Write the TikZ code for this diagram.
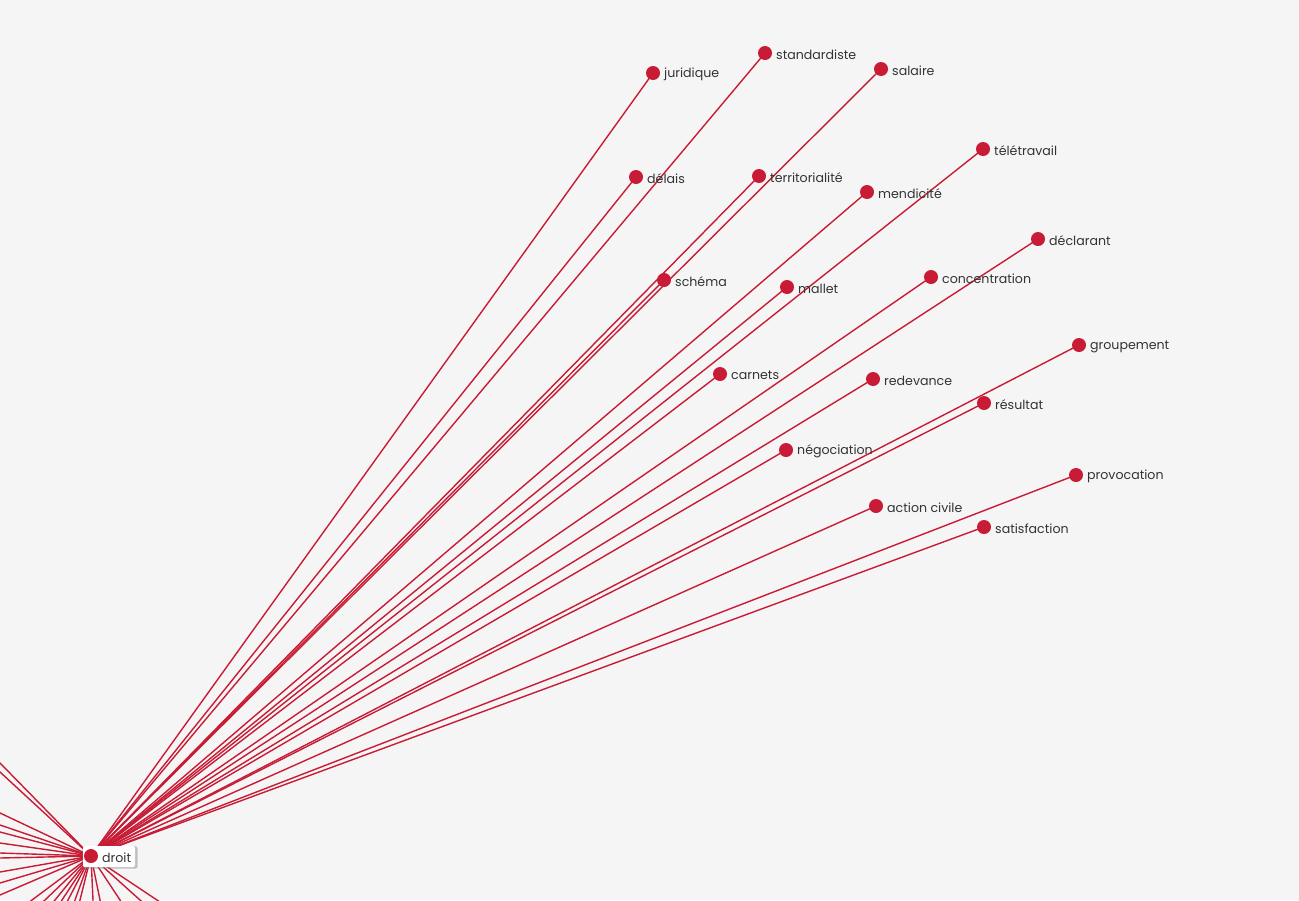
\documentclass[tikz,border=0pt]{standalone}
\usepackage{fontspec}
\setmainfont{Poppins}
\usetikzlibrary{shadows}
\definecolor{bg}{HTML}{F5F5F5}
\definecolor{edgecol}{HTML}{C81C36}
\definecolor{lbl}{HTML}{333333}
\begin{document}
\begin{tikzpicture}[x=1pt,y=-1pt,
  link/.style={draw=edgecol, line width=1.4pt},
  dot/.style={circle, fill=edgecol, minimum size=14pt, inner sep=0pt},
  lab/.style={text=lbl, font=\fontsize{12.6}{14}\selectfont, anchor=west, inner sep=0pt}]
\fill[bg] (0,0) rectangle (1299,900);
\useasboundingbox (0,0) rectangle (1299,900);
% nodes
\coordinate (droit) at (91,856);
\foreach \n/\x/\y in {juridique/653/73, standardiste/765/53, salaire/881/69, teletravail/983/149,
  delais/636/177, territorialite/759/176, mendicite/867/192, declarant/1038/239,
  schema/664/280, mallet/787/287, concentration/931/277, groupement/1079/345,
  carnets/720/374, redevance/873/379, resultat/984/403, negociation/786/450,
  provocation/1076/475, actioncivile/876/506, satisfaction/984/527}
  \coordinate (\n) at (\x,\y);
% off-canvas ends
\foreach \y [count=\i] in {670,688,770,794,808,830,850,860,888,910,934}
  \coordinate (l\i) at (-91,\y);
\foreach \x [count=\i] in {-27,-1,19,33,45,59,69,95,109,149,189,223}
  \coordinate (b\i) at (\x,944);
\begin{scope}
\clip (0,0) rectangle (1299,900);
\foreach \i in {1,...,11} \draw[link] (droit) -- (l\i);
\foreach \i in {1,...,12} \draw[link] (droit) -- (b\i);
\foreach \n in {juridique, standardiste, salaire, teletravail, delais, territorialite,
  mendicite, declarant, schema, mallet, concentration, groupement, carnets, redevance,
  resultat, negociation, provocation, actioncivile, satisfaction}
  \draw[link] (droit) -- (\n);
\end{scope}
\foreach \n/\t in {juridique/juridique, standardiste/standardiste, salaire/salaire,
  teletravail/télétravail, delais/délais, territorialite/territorialité, mendicite/mendicité,
  declarant/déclarant, schema/schéma, mallet/mallet, concentration/concentration,
  groupement/groupement, carnets/carnets, redevance/redevance, resultat/résultat,
  negociation/négociation, provocation/provocation, actioncivile/action civile,
  satisfaction/satisfaction}
{
  \node[dot] (d-\n) at (\n) {};
  \node[lab] (t-\n) at ([xshift=11pt, yshift=-1.5pt]\n) {\t};
}
% central node
\node[fill=white, rounded corners=1.5pt,
  drop shadow={opacity=0.45, shadow xshift=1pt, shadow yshift=-1pt, shadow scale=1.06},
  minimum width=52pt, minimum height=21pt, inner sep=0pt] (droitbox) at (109,856.5) {};
\node[dot] (d-droit) at (droit) {};
\node[lab] (t-droit) at ([xshift=11pt, yshift=-1.5pt]droit) {droit};
\end{tikzpicture}
\end{document}
